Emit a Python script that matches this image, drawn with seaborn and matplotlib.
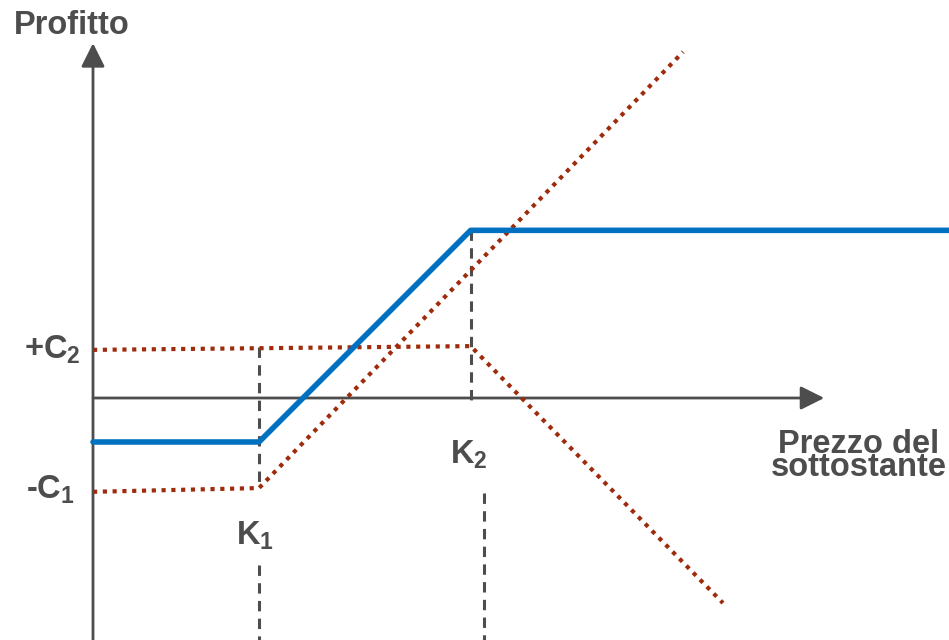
import matplotlib
matplotlib.use("Agg")
import matplotlib.pyplot as plt
import seaborn as sns

# Strikes and premiums (price / profit units)
K1, K2 = 40, 91
C1, C2 = 22.6, 11.6

# Bull call spread: net payoff
spread_price = [0, 40, 91, 207]
spread_profit = [-10.6, -10.6, 40.4, 40.4]

# Long call at K1
long_price = [0, 40, 142.2]
long_profit = [-22.6, -21.7, 83.4]

# Short call at K2
short_price = [0, 91, 151.8]
short_profit = [11.6, 12.5, -49.4]

sns.set_theme(style="white")
plt.rcParams["font.family"] = ["Liberation Sans", "DejaVu Sans"]
plt.rcParams["mathtext.fontset"] = "custom"
plt.rcParams["mathtext.rm"] = "Liberation Sans:bold"
plt.rcParams["mathtext.bf"] = "Liberation Sans:bold"
plt.rcParams["mathtext.it"] = "Liberation Sans:bold"

GREY = "#4d4d4d"
BLUE = "#0070c0"
RED = "#9e2b0c"
FS = 23.5

fig = plt.figure(figsize=(9.49, 6.4), dpi=100)
fig.patch.set_facecolor("white")
ax = fig.add_axes([0, 0, 1, 1])
ax.set_xlim(-22.41, 206.27)
ax.set_ylim(-58.31, 95.90)
ax.axis("off")

# Axes with arrowheads
arrow = dict(arrowstyle="-|>,head_length=0.72,head_width=0.36",
             color=GREY, lw=2.0, mutation_scale=20, shrinkA=0, shrinkB=0)
ax.annotate("", xy=(0, 85.5), xytext=(0, -60), arrowprops=arrow, zorder=1)
ax.annotate("", xy=(176.2, 0), xytext=(0, 0), arrowprops=arrow, zorder=1)

# Strike guide lines
dash = dict(color=GREY, linewidth=2.2, linestyle=(0, (3.4, 2.4)),
            dash_capstyle="butt", zorder=2)
ax.plot([K1, K1], [12.3, -21.7], **dash)
ax.plot([K1, K1], [-40.2, -60], **dash)
ax.plot([K2, K2], [40.4, -1.9], **dash)
ax.plot([K2 + 3.2, K2 + 3.2], [-22.9, -60], **dash)

# Individual legs (dotted)
dot = dict(color=RED, linewidth=3.0, linestyle=(0, (1.0, 1.35)),
           dash_capstyle="butt", sort=False, estimator=None, zorder=3)
sns.lineplot(x=long_price, y=long_profit, ax=ax, **dot)
sns.lineplot(x=short_price, y=short_profit, ax=ax, **dot)

# Spread payoff
sns.lineplot(x=spread_price, y=spread_profit, ax=ax, color=BLUE,
             linewidth=4.0, sort=False, estimator=None, zorder=4)

# Labels
txt = dict(color=GREY, fontsize=FS, fontweight="bold")
ax.text(14 / 949, 1 - 34 / 640, "Profitto", transform=ax.transAxes,
        ha="left", va="baseline", **txt)
ax.text(-2.9, C2 - 2.1, r"+C$_2$", ha="right", va="baseline", **txt)
ax.text(-4.3, -C1 - 1.6, r"-C$_1$", ha="right", va="baseline", **txt)
ax.text(K1 - 1.0, -35.4, r"K$_1$", ha="center", va="baseline", **txt)
ax.text(K2 - 0.4, -15.7, r"K$_2$", ha="center", va="baseline", **txt)
ax.text(859 / 949, 1 - 476 / 640, "Prezzo del\nsottostante",
        transform=ax.transAxes, ha="center", va="baseline",
        multialignment="center", linespacing=0.68, **txt)

fig.savefig("out.png", dpi=100, facecolor="white")
